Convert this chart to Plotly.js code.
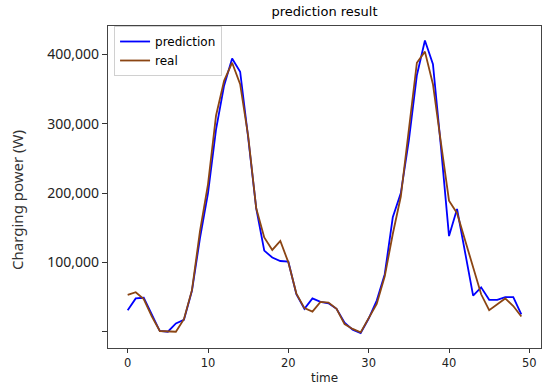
<!DOCTYPE html>
<html><head><meta charset="utf-8">
<script src="https://cdn.plot.ly/plotly-3.0.1.min.js"></script>
<style>html,body{margin:0;padding:0;background:#fff}#chart{width:550px;height:392px}</style>
</head><body><div id="chart"></div>
<script>
const time = Array.from({length: 50}, (_, i) => i);
const prediction = [31000, 48000, 49000, 24000, 1000, 0, 12000, 17000, 59000, 135000,
  200000, 292000, 355000, 394000, 375000, 280000, 178000, 117000, 107000, 102000,
  101000, 54000, 33000, 48000, 43000, 41000, 33000, 13000, 3000, -2000,
  19000, 45000, 83000, 165000, 200000, 276000, 370000, 420000, 386000, 266000,
  138000, 177000, 115000, 52000, 64000, 46000, 46000, 50000, 50000, 25000];
const real = [53000, 57000, 47000, 22000, 1000, 0, 0, 18000, 60000, 145000,
  213000, 312000, 362000, 388000, 357000, 282000, 178000, 136000, 118000, 131000,
  100000, 55000, 34000, 29000, 43000, 42000, 33000, 11000, 4000, -1000,
  19000, 40000, 80000, 141000, 195000, 293000, 388000, 404000, 357000, 272000,
  189000, 171000, 131000, 93000, 54000, 31000, 40000, 48000, 37000, 22000];
const yTickVals = [0, 100000, 200000, 300000, 400000];
const yTickText = ["", "100,000", "200,000", "300,000", "400,000"];
const xTickVals = [0, 10, 20, 30, 40, 50];

const traces = [
  {x: time, y: prediction, name: "prediction", type: "scatter", mode: "lines",
   line: {color: "#0000ff", width: 1.8}},
  {x: time, y: real, name: "real", type: "scatter", mode: "lines",
   line: {color: "#8b4513", width: 1.8}}
];
const layout = {
  width: 550, height: 392,
  margin: {l: 108, r: 9, t: 26, b: 44},
  paper_bgcolor: "#fff", plot_bgcolor: "#fff",
  showlegend: true,
  title: {text: "prediction result", x: 0.59, xanchor: "center", y: 0.97, yanchor: "middle",
          font: {family: "DejaVu Sans", size: 13, color: "#000"}},
  xaxis: {range: [-2.45, 51.45], tickvals: xTickVals, ticks: "outside", ticklen: 4,
          tickcolor: "#333", showgrid: false, zeroline: false, showline: true, mirror: true,
          linecolor: "#444", linewidth: 1.2,
          tickfont: {family: "DejaVu Sans", size: 11.5, color: "#222"},
          title: {text: "time", standoff: 4, font: {family: "DejaVu Sans", size: 12, color: "#222"}}},
  yaxis: {range: [-23500, 441000], tickvals: yTickVals, ticktext: yTickText, ticks: "outside",
          ticklen: 5, tickcolor: "#333", showgrid: false, zeroline: false, showline: true,
          mirror: true, linecolor: "#444", linewidth: 1.2,
          tickfont: {family: "Noto Sans", size: 14, color: "#222"}},
  legend: {x: 0.014, y: 1.0, xanchor: "left", yanchor: "top", bgcolor: "#fff",
           bordercolor: "#d0d0d0", borderwidth: 1, tracegroupgap: 0,
           font: {family: "DejaVu Sans", size: 12, color: "#000"}},
  annotations: [{text: "Charging power (W)", xref: "paper", yref: "paper",
                 x: -0.21, y: 0.46, xanchor: "center", yanchor: "middle", textangle: -90,
                 showarrow: false, font: {family: "Noto Sans", size: 15, color: "#333"}}]
};
Plotly.newPlot("chart", traces, layout, {displayModeBar: false, staticPlot: true});
</script></body></html>
